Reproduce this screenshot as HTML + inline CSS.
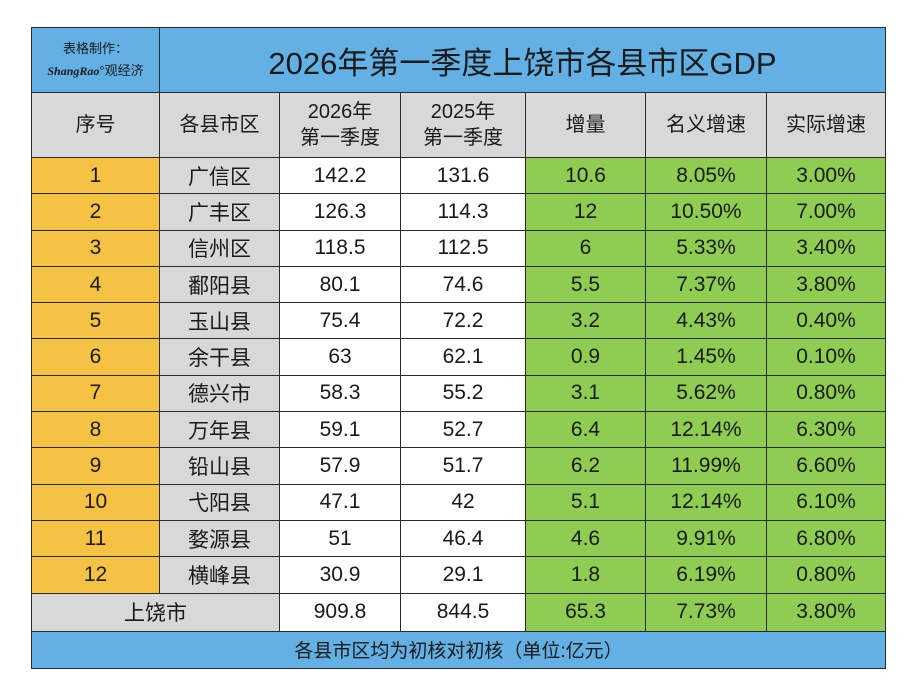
<!DOCTYPE html>
<html><head><meta charset="utf-8">
<style>
html,body{margin:0;padding:0;background:#fff;width:918px;height:695px;overflow:hidden}
body{font-family:"Liberation Sans","Noto Sans CJK SC",sans-serif;color:#1a1a1a}
table{position:absolute;left:31px;top:27px;border-collapse:collapse;table-layout:fixed}
td{border:1.5px solid #2a2a2a;text-align:center;padding:0;font-size:21px;white-space:nowrap}
.t{background:#63b0e4}
.h{background:#d8d8d8;font-size:20px;line-height:26px}
.o{background:#f6c244}
.g{background:#d8d8d8}
.w{background:#fff}
.gr{background:#8fcc52}
tr.r td{height:35.3px}
</style></head><body>
<table>
<colgroup><col style="width:128px"><col style="width:120px"><col style="width:121px"><col style="width:125px"><col style="width:120px"><col style="width:121px"><col style="width:119px"></colgroup>
<tr style="height:65px">
<td class="t" style="font-size:13px;line-height:22px">表格制作：<br><i style="font-family:'Liberation Serif',serif;font-weight:bold;font-size:12px">ShangRao</i>°观经济</td>
<td class="t" colspan="6" style="font-size:31px">2026年第一季度上饶市各县市区GDP</td></tr>
<tr style="height:65px">
<td class="h">序号</td><td class="h">各县市区</td><td class="h">2026年<br>第一季度</td><td class="h">2025年<br>第一季度</td><td class="h">增量</td><td class="h">名义增速</td><td class="h">实际增速</td></tr>
<tr class="r"><td class="o">1</td><td class="g">广信区</td><td class="w">142.2</td><td class="w">131.6</td><td class="gr">10.6</td><td class="gr">8.05%</td><td class="gr">3.00%</td></tr>
<tr class="r"><td class="o">2</td><td class="g">广丰区</td><td class="w">126.3</td><td class="w">114.3</td><td class="gr">12</td><td class="gr">10.50%</td><td class="gr">7.00%</td></tr>
<tr class="r"><td class="o">3</td><td class="g">信州区</td><td class="w">118.5</td><td class="w">112.5</td><td class="gr">6</td><td class="gr">5.33%</td><td class="gr">3.40%</td></tr>
<tr class="r"><td class="o">4</td><td class="g">鄱阳县</td><td class="w">80.1</td><td class="w">74.6</td><td class="gr">5.5</td><td class="gr">7.37%</td><td class="gr">3.80%</td></tr>
<tr class="r"><td class="o">5</td><td class="g">玉山县</td><td class="w">75.4</td><td class="w">72.2</td><td class="gr">3.2</td><td class="gr">4.43%</td><td class="gr">0.40%</td></tr>
<tr class="r"><td class="o">6</td><td class="g">余干县</td><td class="w">63</td><td class="w">62.1</td><td class="gr">0.9</td><td class="gr">1.45%</td><td class="gr">0.10%</td></tr>
<tr class="r"><td class="o">7</td><td class="g">德兴市</td><td class="w">58.3</td><td class="w">55.2</td><td class="gr">3.1</td><td class="gr">5.62%</td><td class="gr">0.80%</td></tr>
<tr class="r"><td class="o">8</td><td class="g">万年县</td><td class="w">59.1</td><td class="w">52.7</td><td class="gr">6.4</td><td class="gr">12.14%</td><td class="gr">6.30%</td></tr>
<tr class="r"><td class="o">9</td><td class="g">铅山县</td><td class="w">57.9</td><td class="w">51.7</td><td class="gr">6.2</td><td class="gr">11.99%</td><td class="gr">6.60%</td></tr>
<tr class="r"><td class="o">10</td><td class="g">弋阳县</td><td class="w">47.1</td><td class="w">42</td><td class="gr">5.1</td><td class="gr">12.14%</td><td class="gr">6.10%</td></tr>
<tr class="r"><td class="o">11</td><td class="g">婺源县</td><td class="w">51</td><td class="w">46.4</td><td class="gr">4.6</td><td class="gr">9.91%</td><td class="gr">6.80%</td></tr>
<tr class="r"><td class="o">12</td><td class="g">横峰县</td><td class="w">30.9</td><td class="w">29.1</td><td class="gr">1.8</td><td class="gr">6.19%</td><td class="gr">0.80%</td></tr>
<tr style="height:38px"><td class="g" colspan="2">上饶市</td><td class="w">909.8</td><td class="w">844.5</td><td class="gr">65.3</td><td class="gr">7.73%</td><td class="gr">3.80%</td></tr>
<tr style="height:37px"><td class="t" colspan="7" style="font-size:19px">各县市区均为初核对初核（单位:亿元）</td></tr>
</table>
</body></html>
